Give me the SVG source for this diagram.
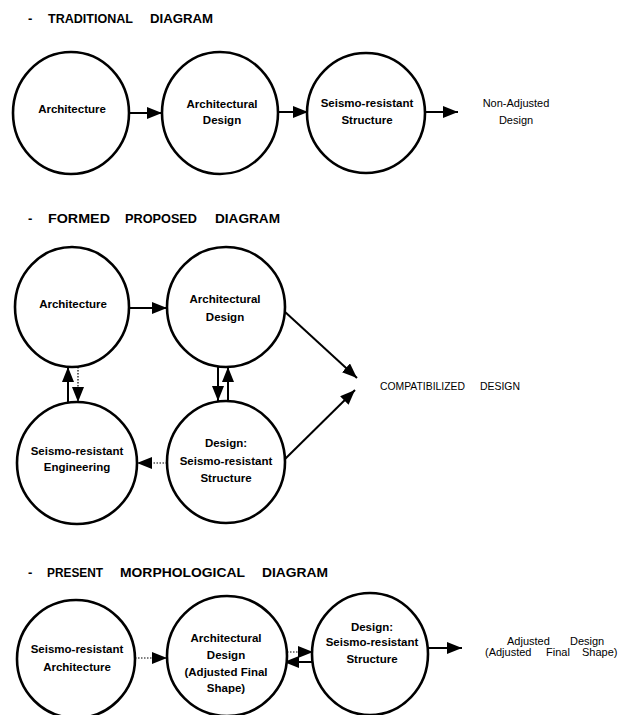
<svg xmlns="http://www.w3.org/2000/svg" width="628" height="715" viewBox="0 0 628 715">
<defs>
<marker id="ah" markerUnits="userSpaceOnUse" markerWidth="16" markerHeight="12" refX="15" refY="6" orient="auto">
<path d="M0,0 L15,6 L0,12 z" fill="#000"/>
</marker>
<style>
.bg{fill:#fff}
.node ellipse{fill:#fff;stroke:#000;stroke-width:2.6}
.lbl{font-family:"Liberation Sans",Arial,sans-serif;font-size:11.5px;font-weight:bold;fill:#000;text-anchor:middle}
.ttl{font-family:"Liberation Sans",Arial,sans-serif;font-size:13px;font-weight:bold;fill:#000}
.out{font-family:"Liberation Sans",Arial,sans-serif;font-size:11px;fill:#000;text-anchor:middle}
.outs{font-family:"Liberation Sans",Arial,sans-serif;font-size:11px;fill:#000;text-anchor:start}
.cmp{font-family:"Liberation Sans",Arial,sans-serif;font-size:10.5px;fill:#000}
.c{stroke:#000;stroke-width:2;fill:none;marker-end:url(#ah)}
.d{stroke:#000;stroke-width:1.2;stroke-dasharray:1.5 1.5;fill:none;marker-end:url(#ah)}
</style>
</defs>
<rect class="bg" x="0" y="0" width="628" height="715"/>

<!-- Titles -->
<g id="title-traditional">
<text class="ttl" x="28" y="23">-</text>
<text class="ttl" x="48" y="23" textLength="85" lengthAdjust="spacingAndGlyphs">TRADITIONAL</text>
<text class="ttl" x="150" y="23" textLength="63" lengthAdjust="spacingAndGlyphs">DIAGRAM</text>
</g>
<g id="title-formed">
<text class="ttl" x="28" y="223">-</text>
<text class="ttl" x="48" y="223" textLength="62" lengthAdjust="spacingAndGlyphs">FORMED</text>
<text class="ttl" x="125" y="223" textLength="72" lengthAdjust="spacingAndGlyphs">PROPOSED</text>
<text class="ttl" x="215" y="223" textLength="65" lengthAdjust="spacingAndGlyphs">DIAGRAM</text>
</g>
<g id="title-present">
<text class="ttl" x="28" y="577">-</text>
<text class="ttl" x="47" y="577" textLength="56" lengthAdjust="spacingAndGlyphs">PRESENT</text>
<text class="ttl" x="120" y="577" textLength="125" lengthAdjust="spacingAndGlyphs">MORPHOLOGICAL</text>
<text class="ttl" x="262" y="577" textLength="66" lengthAdjust="spacingAndGlyphs">DIAGRAM</text>
</g>

<!-- Connectors -->
<g id="connectors">
<line class="c" x1="129" y1="113" x2="162" y2="113"/>
<line class="c" x1="279" y1="112" x2="308" y2="112"/>
<line class="c" x1="425" y1="112" x2="458" y2="112"/>

<line class="c" x1="129" y1="308" x2="167" y2="308"/>
<line class="c" x1="68" y1="403" x2="68" y2="367"/>
<line class="d" x1="78" y1="367" x2="78" y2="402"/>
<line class="c" x1="218" y1="367" x2="218" y2="401"/>
<line class="c" x1="228" y1="401" x2="228" y2="367"/>
<line class="d" x1="167" y1="463" x2="137" y2="463"/>
<line class="c" x1="284" y1="311" x2="357" y2="378"/>
<line class="c" x1="284" y1="460" x2="355" y2="390"/>

<line class="d" x1="135" y1="658" x2="167" y2="658"/>
<line class="d" x1="284" y1="652" x2="313" y2="652"/>
<line class="c" x1="313" y1="662" x2="284" y2="662"/>
<line class="c" x1="428" y1="648" x2="462" y2="648"/>
</g>

<!-- Section 1 nodes -->
<g id="t-architecture" class="node">
<ellipse cx="71" cy="113" rx="58" ry="61"/>
<text class="lbl" x="72" y="113">Architecture</text>
</g>
<g id="t-architectural-design" class="node">
<ellipse cx="220" cy="113" rx="58" ry="61"/>
<text class="lbl" x="222" y="108">Architectural</text>
<text class="lbl" x="222" y="124">Design</text>
</g>
<g id="t-structure" class="node">
<ellipse cx="366" cy="113" rx="59" ry="60"/>
<text class="lbl" x="367" y="107">Seismo-resistant</text>
<text class="lbl" x="367" y="124">Structure</text>
</g>
<g id="t-output">
<text class="out" x="516" y="107">Non-Adjusted</text>
<text class="out" x="516" y="124">Design</text>
</g>

<!-- Section 2 nodes -->
<g id="f-architecture" class="node">
<ellipse cx="72" cy="307" rx="57" ry="60"/>
<text class="lbl" x="73" y="308">Architecture</text>
</g>
<g id="f-architectural-design" class="node">
<ellipse cx="226" cy="307" rx="59" ry="60"/>
<text class="lbl" x="225" y="303">Architectural</text>
<text class="lbl" x="225" y="321">Design</text>
</g>
<g id="f-engineering" class="node">
<ellipse cx="77" cy="463" rx="60" ry="61"/>
<text class="lbl" x="77" y="455">Seismo-resistant</text>
<text class="lbl" x="77" y="471">Engineering</text>
</g>
<g id="f-structure" class="node">
<ellipse cx="226" cy="462" rx="59" ry="61"/>
<text class="lbl" x="226" y="447">Design:</text>
<text class="lbl" x="226" y="465">Seismo-resistant</text>
<text class="lbl" x="226" y="482">Structure</text>
</g>
<g id="f-output">
<text class="cmp" x="380" y="390" textLength="85" lengthAdjust="spacingAndGlyphs">COMPATIBILIZED</text>
<text class="cmp" x="480" y="390" textLength="40" lengthAdjust="spacingAndGlyphs">DESIGN</text>
</g>

<!-- Section 3 nodes -->
<g id="p-architecture" class="node">
<ellipse cx="76" cy="659" rx="59" ry="59"/>
<text class="lbl" x="77" y="653">Seismo-resistant</text>
<text class="lbl" x="77" y="671">Architecture</text>
</g>
<g id="p-architectural-design" class="node">
<ellipse cx="227" cy="656" rx="60" ry="60"/>
<text class="lbl" x="226" y="642">Architectural</text>
<text class="lbl" x="226" y="659">Design</text>
<text class="lbl" x="226" y="676">(Adjusted  Final</text>
<text class="lbl" x="226" y="692">Shape)</text>
</g>
<g id="p-structure" class="node">
<ellipse cx="370" cy="654" rx="58" ry="61"/>
<text class="lbl" x="372" y="631">Design:</text>
<text class="lbl" x="372" y="646">Seismo-resistant</text>
<text class="lbl" x="372" y="663">Structure</text>
</g>
<g id="p-output">
<text class="outs" x="507" y="645">Adjusted</text>
<text class="outs" x="570" y="645">Design</text>
<text class="outs" x="485" y="656">(Adjusted</text>
<text class="outs" x="546" y="656">Final</text>
<text class="outs" x="582" y="656">Shape)</text>
</g>
</svg>
